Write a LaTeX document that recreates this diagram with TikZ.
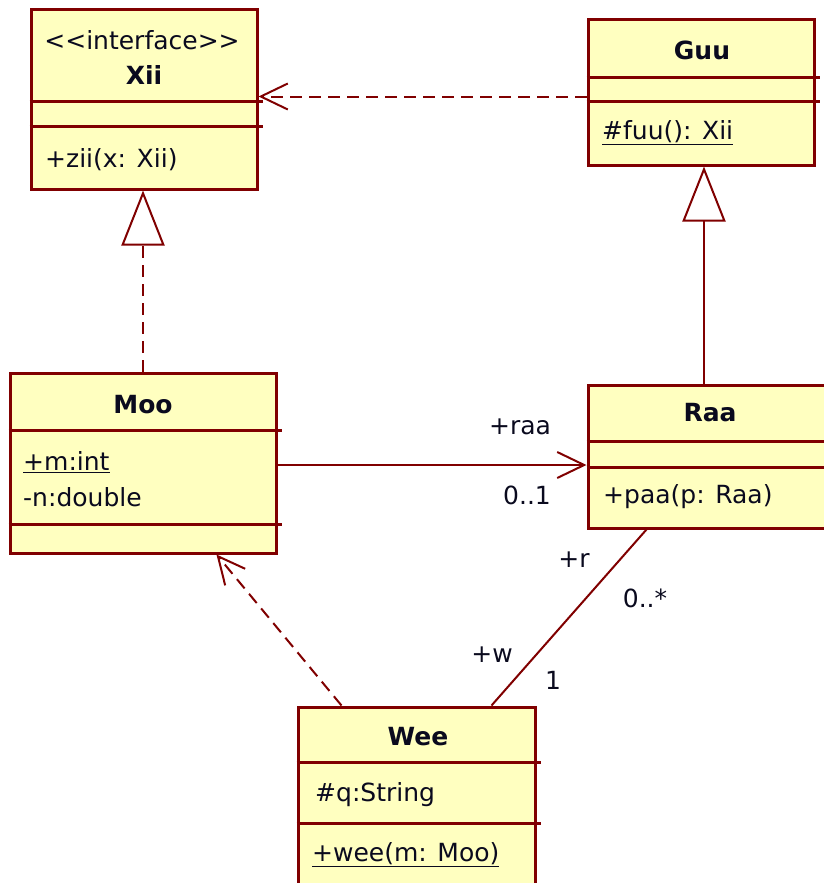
\documentclass[tikz,border=0pt]{standalone}
\usepackage{fontspec}
\setmainfont{DejaVu Sans}
\usetikzlibrary{arrows.meta,calc}
\definecolor{umlred}{RGB}{128,0,0}
\definecolor{umlyellow}{RGB}{255,255,192}
\definecolor{umltext}{RGB}{10,10,30}

\begin{document}
\begin{tikzpicture}[x=1pt, y=-1pt,
    font=\fontsize{25}{29}\selectfont,
    umlclass/.style={draw=umlred, fill=umlyellow, line width=3pt, inner sep=0pt},
    umlsep/.style={draw=umlred, line width=2.5pt},
    umlmember/.style={anchor=west, inner sep=0pt, text=umltext},
    umlname/.style={inner sep=0pt, text=umltext, font=\fontsize{25}{29}\selectfont\bfseries},
    umlline/.style={draw=umlred, line width=2pt},
    umldash/.style={umlline, dash pattern=on 12pt off 7pt},
    barbtip/.style={-{Straight Barb[length=27pt, width=26pt]}},
    hollowtip/.style={-{Triangle[length=55pt, width=43pt, fill=white]}}]
    \useasboundingbox (0,0) rectangle (823,883);

    % Class boxes
    \node[umlclass, minimum width=226pt, minimum height=179pt] (xii) at (144,99.5) {};
    \node[umlclass, minimum width=226pt, minimum height=145pt] (guu) at (701,92.5) {};
    \node[umlclass, minimum width=266pt, minimum height=180pt] (moo) at (143,463) {};
    \node[umlclass, minimum width=300pt, minimum height=143pt] (raa) at (738,456.5) {};
    \node[umlclass, minimum width=237pt, minimum height=193pt] (wee) at (416.5,803.5) {};

    % Compartment lines
    \draw[umlsep] ($(xii.north west)+(0,93)$) -- ($(xii.north east)+(4,93)$);
    \draw[umlsep] ($(xii.north west)+(0,118)$) -- ($(xii.north east)+(4,118)$);
    \draw[umlsep] ($(guu.north west)+(0,59)$) -- ($(guu.north east)+(4,59)$);
    \draw[umlsep] ($(guu.north west)+(0,83)$) -- ($(guu.north east)+(4,83)$);
    \draw[umlsep] ($(moo.north west)+(0,59)$) -- ($(moo.north east)+(4,59)$);
    \draw[umlsep] ($(moo.north west)+(0,153)$) -- ($(moo.north east)+(4,153)$);
    \draw[umlsep] ($(raa.north west)+(0,58)$) -- ($(raa.north east)+(4,58)$);
    \draw[umlsep] ($(raa.north west)+(0,84)$) -- ($(raa.north east)+(4,84)$);
    \draw[umlsep] ($(wee.north west)+(0,57)$) -- ($(wee.north east)+(4,57)$);
    \draw[umlsep] ($(wee.north west)+(0,118)$) -- ($(wee.north east)+(4,118)$);

    % Class texts
    \node[inner sep=0pt, text=umltext] (xiistereo) at (142,40) {{<}{<}interface{>}{>}};
    \node[umlname] (xiiname) at (144,75) {Xii};
    \node[umlmember] (xiiop) at (45,160) {+zii(x: Xii)};
    \node[umlname] (guuname) at (702,50) {Guu};
    \node[umlmember] (guuop) at (602,133) {\underline{\#fuu(): Xii}};
    \node[umlname] (mooname) at (143,405) {Moo};
    \node[umlmember] (mooattm) at (23,462) {\underline{+m:int}};
    \node[umlmember] (mooattn) at (23,497) {-n:double};
    \node[umlname] (raaname) at (710,413) {Raa};
    \node[umlmember] (raaop) at (603,497) {+paa(p: Raa)};
    \node[umlname] (weename) at (418,737) {Wee};
    \node[umlmember] (weeatt) at (315,795) {\#q:String};
    \node[umlmember] (weeop) at (312,855) {\underline{+wee(m: Moo)}};

    % Connectors
    \coordinate (deptail) at ([yshift=-4pt]guu.west);
    \draw[umldash, barbtip] (deptail) -- (xii.east |- deptail);
    \draw[umldash, hollowtip] (moo.north) -- (xii.south -| moo.north);
    \coordinate (gentip) at ([xshift=3pt]guu.south);
    \draw[umlline, hollowtip] (raa.north -| gentip) -- (gentip);
    \coordinate (assoctail) at ([yshift=-2pt]moo.east);
    \draw[umlline, barbtip] (assoctail) -- (raa.west |- assoctail);
    \draw[umlline] ([xshift=60pt]raa.south west) -- ([xshift=195pt]wee.north west);
    \draw[umldash, barbtip] ([xshift=45pt]wee.north west) -- ([xshift=208pt]moo.south west);

    % Association ends
    \node[text=umltext] (raarole) at (520,427) {+raa};
    \node[text=umltext] (raamult) at (527,495) {0..1};
    \node[text=umltext] (rrole) at (574,560) {+r};
    \node[text=umltext] (rmult) at (645,598) {0..*};
    \node[text=umltext] (wrole) at (492,655) {+w};
    \node[text=umltext] (wmult) at (553,680) {1};
\end{tikzpicture}
\end{document}
